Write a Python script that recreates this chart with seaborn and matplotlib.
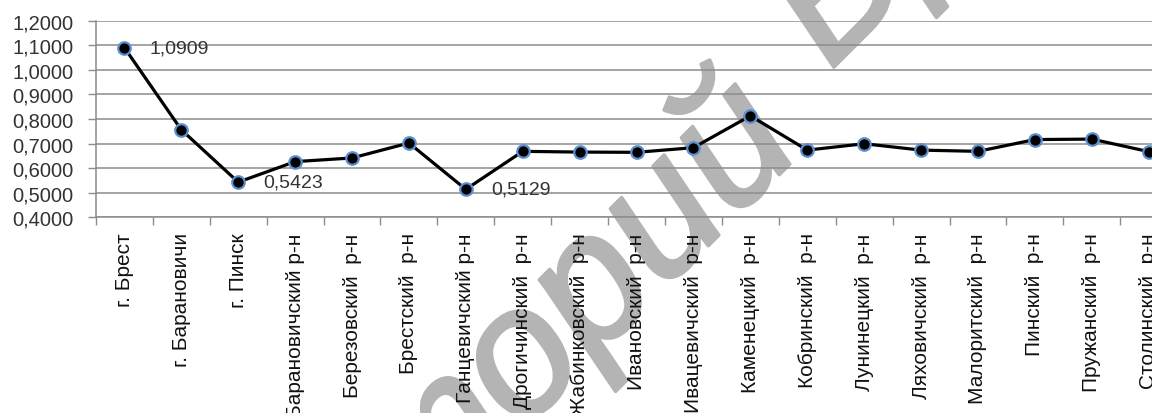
import numpy as np
import pandas as pd
import matplotlib
matplotlib.use('Agg')
import matplotlib.pyplot as plt
import matplotlib.patheffects as pe
from matplotlib.ticker import FixedLocator, FuncFormatter
import seaborn as sns

# categories and values
regions = ['г. Брест', 'г. Барановичи', 'г. Пинск', 'Барановичский р-н',
           'Березовский  р-н', 'Брестский  р-н', 'Ганцевичский р-н',
           'Дрогичинский  р-н', 'Жабинковский  р-н', 'Ивановский  р-н',
           'Ивацевичский  р-н', 'Каменецкий  р-н', 'Кобринский  р-н',
           'Лунинецкий  р-н', 'Ляховичский  р-н', 'Малоритский  р-н',
           'Пинский  р-н', 'Пружанский  р-н', 'Столинский  р-н']
values = [1.0909, 0.756, 0.5423, 0.626, 0.641, 0.702, 0.5129, 0.668, 0.665,
          0.664, 0.683, 0.813, 0.673, 0.699, 0.673, 0.668, 0.716, 0.718, 0.667]
labelled = [0, 2, 6]  # points with a value label

df = pd.DataFrame({'pos': np.arange(len(regions)), 'value': values})

sns.set_style('white')
plt.rcParams['font.family'] = ['Liberation Sans', 'DejaVu Sans']

fig = plt.figure(figsize=(11.52, 4.14), dpi=100)
# axes run past the right edge, like the cropped original
ax = fig.add_axes([0.0833, 0.4734, 0.9385, 0.4735])
ax.patch.set_alpha(0)

sns.lineplot(data=df, x='pos', y='value', ax=ax, color='black', linewidth=2.3,
             marker='o', markersize=9, markerfacecolor='black',
             markeredgecolor='#5b8fd0', markeredgewidth=1.6, zorder=3)

for i in labelled:
    ax.annotate(f'{values[i]:.4f}'.replace('.', ','), (i, values[i]),
                xytext=(18, 0), textcoords='offset points', ha='left',
                va='center', fontsize=14, color='#333333')

ax.set_xlim(-0.5, len(regions) - 0.5)
ax.set_ylim(0.4, 1.2)
ax.yaxis.set_major_locator(FixedLocator(np.arange(0.4, 1.21, 0.1)))
ax.yaxis.set_major_formatter(FuncFormatter(lambda v, p: f'{v:.4f}'.replace('.', ',')))
ax.grid(axis='y', color='#8c8c8c', linewidth=1.1)
ax.set_axisbelow(True)

# tick marks between categories, labels at category centres
ax.xaxis.set_major_locator(FixedLocator(np.arange(-0.5, len(regions), 1.0)))
ax.xaxis.set_major_formatter(FuncFormatter(lambda v, p: ''))
ax.set_xticks(np.arange(len(regions)), minor=True)
ax.set_xticklabels(regions, minor=True, rotation=90, va='top', ha='center')
ax.tick_params(axis='x', which='major', length=6, width=1, color='#8c8c8c', direction='out', bottom=True)
ax.tick_params(axis='x', which='minor', length=0, pad=11, labelsize=15, labelcolor='#111111')
ax.tick_params(axis='y', length=6, width=1, color='#8c8c8c', direction='out', left=True,
               pad=10, labelsize=14.5, labelcolor='#333333')
ax.set_xlabel('')
ax.set_ylabel('')

for s in ['top', 'right']:
    ax.spines[s].set_visible(False)
for s in ['left', 'bottom']:
    ax.spines[s].set_color('#8c8c8c')
    ax.spines[s].set_linewidth(1.1)

# watermark, drawn under the axes
wm = dict(rotation=45, rotation_mode='anchor', fontsize=130, style='italic',
          color='#b4b4b4', va='baseline', zorder=-1,
          path_effects=[pe.withStroke(linewidth=2.5, foreground='#b4b4b4')])
fig.text(805 / 1152, 1 - 150 / 414, 'Репозиторий', ha='right', **wm)
fig.text(830 / 1152, 1 - 72 / 414, 'БрГУ', ha='left', **wm)

fig.savefig('out.png', dpi=100)
